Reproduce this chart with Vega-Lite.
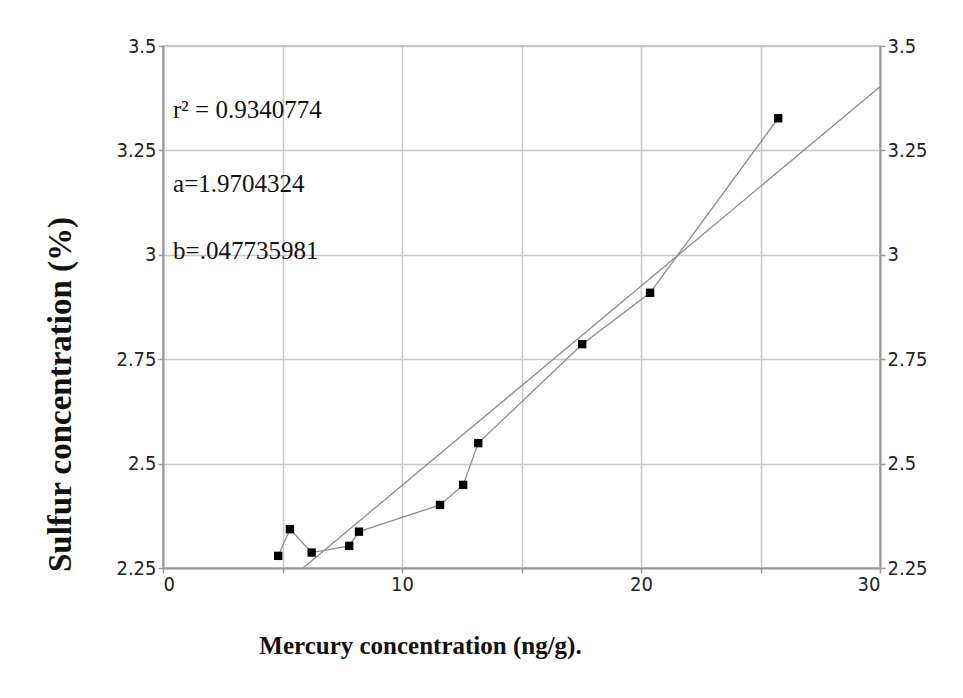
{
  "$schema": "https://vega.github.io/schema/vega-lite/v6.json",
  "width": 717,
  "height": 522,
  "autosize": {"type": "none"},
  "padding": {"left": 163, "top": 46, "right": 83, "bottom": 130},
  "background": "white",
  "config": {
    "view": {"stroke": "#b0b0b0", "strokeWidth": 1.5},
    "axis": {
      "labelFont": "'DejaVu Sans Condensed', 'Liberation Sans Narrow', 'Liberation Sans', sans-serif",
      "labelFontSize": 20,
      "labelColor": "#222",
      "domainColor": "#999",
      "domainWidth": 2,
      "tickColor": "#999",
      "tickSize": 5,
      "tickWidth": 1.5,
      "gridColor": "#c8c8c8",
      "gridWidth": 1.5,
      "gridOpacity": 1
    }
  },
  "datasets": {
    "obs": [
      {"hg": 4.82, "s": 2.279},
      {"hg": 5.31, "s": 2.343},
      {"hg": 6.22, "s": 2.287},
      {"hg": 7.79, "s": 2.303},
      {"hg": 8.2, "s": 2.337},
      {"hg": 11.59, "s": 2.401},
      {"hg": 12.56, "s": 2.449},
      {"hg": 13.19, "s": 2.549},
      {"hg": 17.54, "s": 2.786},
      {"hg": 20.38, "s": 2.909},
      {"hg": 25.74, "s": 3.327}
    ],
    "fit": [
      {"hg": 5.86, "s": 2.25},
      {"hg": 30, "s": 3.4025}
    ],
    "notes": [
      {"hg": 0.42, "s": 3.347, "label": "r² = 0.9340774"},
      {"hg": 0.42, "s": 3.17, "label": "a=1.9704324"},
      {"hg": 0.42, "s": 3.009, "label": "b=.047735981"}
    ]
  },
  "resolve": {"axis": {"y": "independent"}},
  "layer": [
    {
      "data": {"name": "fit"},
      "mark": {"type": "line", "color": "#8c8c8c", "strokeWidth": 1.3},
      "encoding": {
        "x": {
          "field": "hg", "type": "quantitative",
          "scale": {"domain": [0, 30], "nice": false},
          "axis": {
            "values": [0, 5, 10, 15, 20, 25, 30],
            "labelExpr": "datum.value % 10 === 0 ? datum.label : ''",
            "labelPadding": 1,
            "title": "Mercury concentration (ng/g).",
            "titleFont": "Liberation Serif",
            "titleFontSize": 25,
            "titleFontWeight": "bold",
            "titleColor": "#111",
            "titleAnchor": "start",
            "titleAlign": "center",
            "titleX": 257,
            "titleY": 85,
            "titleBaseline": "alphabetic"
          }
        },
        "y": {
          "field": "s", "type": "quantitative",
          "scale": {"domain": [2.25, 3.5], "nice": false, "zero": false},
          "axis": {
            "orient": "left",
            "values": [2.25, 2.5, 2.75, 3, 3.25, 3.5],
            "format": ".3~f",
            "labelPadding": 2,
            "title": "Sulfur  concentration (%)",
            "titleFont": "Liberation Serif",
            "titleFontSize": 33,
            "titleFontWeight": "bold",
            "titleColor": "#111",
            "titleAngle": -90,
            "titleAlign": "center",
            "titleBaseline": "middle",
            "titleX": -103,
            "titleY": 348
          }
        }
      }
    },
    {
      "data": {"name": "obs"},
      "mark": {"type": "line", "color": "#8c8c8c", "strokeWidth": 1.3},
      "encoding": {
        "x": {"field": "hg", "type": "quantitative"},
        "y": {
          "field": "s", "type": "quantitative",
          "axis": {
            "orient": "right",
            "values": [2.25, 2.5, 2.75, 3, 3.25, 3.5],
            "format": ".3~f",
            "labelPadding": 2,
            "grid": false,
            "title": null
          }
        }
      }
    },
    {
      "data": {"name": "obs"},
      "mark": {"type": "square", "color": "black", "opacity": 1, "size": 70},
      "encoding": {
        "x": {"field": "hg", "type": "quantitative"},
        "y": {"field": "s", "type": "quantitative", "axis": null}
      }
    },
    {
      "data": {"name": "notes"},
      "mark": {"type": "text", "align": "left", "baseline": "middle", "font": "Liberation Serif", "fontSize": 25, "color": "#111"},
      "encoding": {
        "x": {"field": "hg", "type": "quantitative"},
        "y": {"field": "s", "type": "quantitative", "axis": null},
        "text": {"field": "label"}
      }
    }
  ]
}
